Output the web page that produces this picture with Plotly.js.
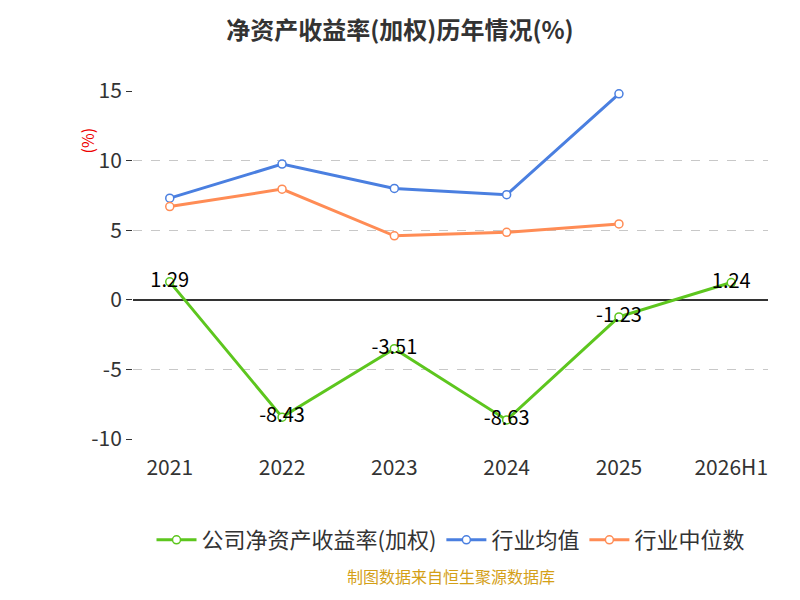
<!DOCTYPE html>
<html>
<head>
<meta charset="utf-8">
<script src="https://cdn.plot.ly/plotly-3.0.1.min.js"></script>
<style>body{margin:0}#chart{width:800px;height:600px}</style>
</head>
<body>
<div id="chart"></div>
<script>
const years = ['2021', '2022', '2023', '2024', '2025', '2026H1'];
const companyRoe = [1.29, -8.43, -3.51, -8.63, -1.23, 1.24];
const industryAvg = [7.3, 9.75, 8.0, 7.55, 14.8];
const industryMedian = [6.7, 7.95, 4.6, 4.85, 5.45];
const yTicks = [-10, -5, 0, 5, 10, 15];

const font = 'Noto Sans CJK SC, Noto Sans, sans-serif';

const traces = [
    {
        x: years, y: companyRoe, name: '公司净资产收益率(加权)',
        mode: 'lines+markers+text', cliponaxis: false,
        text: companyRoe.map(v => v.toFixed(2)),
        textposition: 'middle center',
        textfont: { family: font, size: 20, color: '#000' },
        line: { color: '#5dc61e', width: 3 },
        marker: { size: 8, color: '#fff', line: { color: '#5dc61e', width: 1.5 } }
    },
    {
        x: years.slice(0, 5), y: industryAvg, name: '行业均值',
        mode: 'lines+markers', cliponaxis: false,
        line: { color: '#4a7fe0', width: 3 },
        marker: { size: 8, color: '#fff', line: { color: '#4a7fe0', width: 1.5 } }
    },
    {
        x: years.slice(0, 5), y: industryMedian, name: '行业中位数',
        mode: 'lines+markers', cliponaxis: false,
        line: { color: '#ff8c55', width: 3 },
        marker: { size: 8, color: '#fff', line: { color: '#ff8c55', width: 1.5 } }
    }
];

const layout = {
    width: 800, height: 600,
    title: {
        text: '<b>净资产收益率(加权)历年情况(%)</b>',
        x: 0.5, y: 0.963, xanchor: 'center',
        font: { family: font, size: 24, color: '#333' }
    },
    xaxis: {
        type: 'category',
        tickfont: { family: font, size: 21, color: '#333' },
        showgrid: false, showline: false, zeroline: false,
        ticks: '', ticklabelstandoff: 14
    },
    yaxis: {
        range: [-10, 15],
        tickvals: yTicks, ticktext: yTicks.map(String),
        tickfont: { family: font, size: 21, color: '#333' },
        gridcolor: '#c8c8c8', griddash: 'dash',
        zeroline: true, zerolinecolor: '#333', zerolinewidth: 1.5,
        ticks: 'outside', ticklen: 6, tickcolor: '#333'
    },
    annotations: [
        { text: '(%)', xref: 'paper', yref: 'paper', x: -0.095, y: 0.9, textangle: -90,
          showarrow: false, font: { family: font, size: 16, color: '#e00' } },
        { text: '制图数据来自恒生聚源数据库', xref: 'paper', yref: 'paper', x: 0.5, y: -0.435,
          xanchor: 'center', showarrow: false, font: { family: font, size: 16, color: '#d4a017' } }
    ],
    legend: {
        orientation: 'h', x: 0.5, xanchor: 'center', y: -0.23,
        itemwidth: 40,
        font: { family: font, size: 22, color: '#333' }
    },
    margin: { l: 133, r: 32, t: 91, b: 161 },
    plot_bgcolor: '#fff', paper_bgcolor: '#fff'
};

Plotly.newPlot('chart', traces, layout, { displayModeBar: false });
</script>
</body>
</html>
